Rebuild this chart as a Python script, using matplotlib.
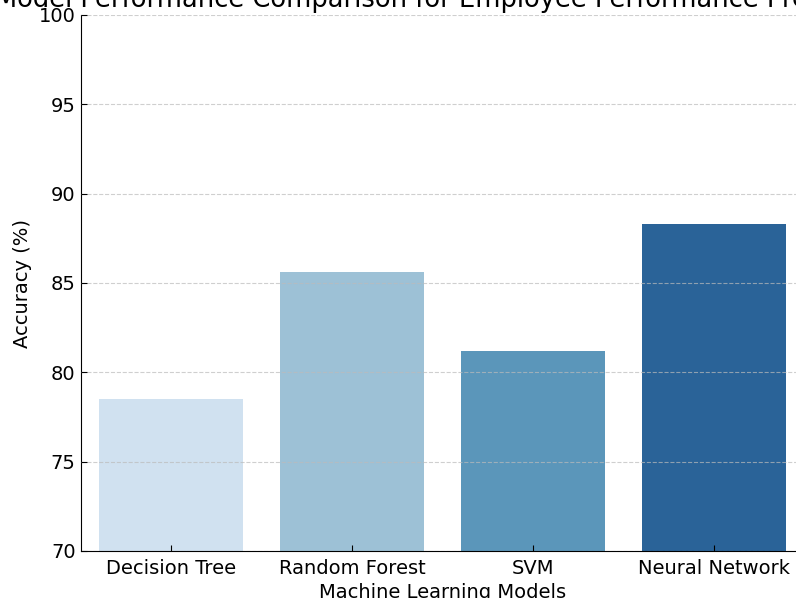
#!/usr/bin/env python3
"""Bar chart of model accuracy for employee performance prediction."""

import matplotlib

matplotlib.use("Agg")
import matplotlib.pyplot as plt

models = ["Decision Tree", "Random Forest", "SVM", "Neural Network"]
accuracy = [78.5, 85.6, 81.2, 88.3]
bar_colors = ["#d0e1f0", "#9dc1d6", "#5b96ba", "#2a6398"]
y_ticks = [70, 75, 80, 85, 90, 95, 100]


def main() -> None:
    fig = plt.figure(figsize=(7.96, 5.98), dpi=100)
    ax = fig.add_axes([80.5 / 796, 47 / 598, 724 / 796, 536 / 598])

    positions = range(len(models))
    ax.bar(positions, accuracy, width=0.8, color=bar_colors, zorder=1)

    ax.set_xlim(-0.5, len(models) - 0.5)
    ax.set_ylim(70, 100)
    ax.set_yticks(y_ticks)
    ax.set_xticks(list(positions))
    ax.set_xticklabels(models)
    ax.tick_params(direction="in", labelsize=14, length=4)
    ax.tick_params(axis="x", pad=6)

    ax.grid(axis="y", linestyle="--", color="#bbbbbb", alpha=0.7, zorder=2)
    ax.set_axisbelow(False)
    for side in ("top", "right"):
        ax.spines[side].set_visible(False)

    ax.set_title("Model Performance Comparison for Employee Performance Prediction",
                 fontsize=18.5, x=0.503, pad=6)
    ax.set_xlabel("Machine Learning Models", fontsize=14, labelpad=3)
    ax.set_ylabel("Accuracy (%)", fontsize=14, labelpad=5)

    fig.savefig("out.png", dpi=100)


if __name__ == "__main__":
    main()
